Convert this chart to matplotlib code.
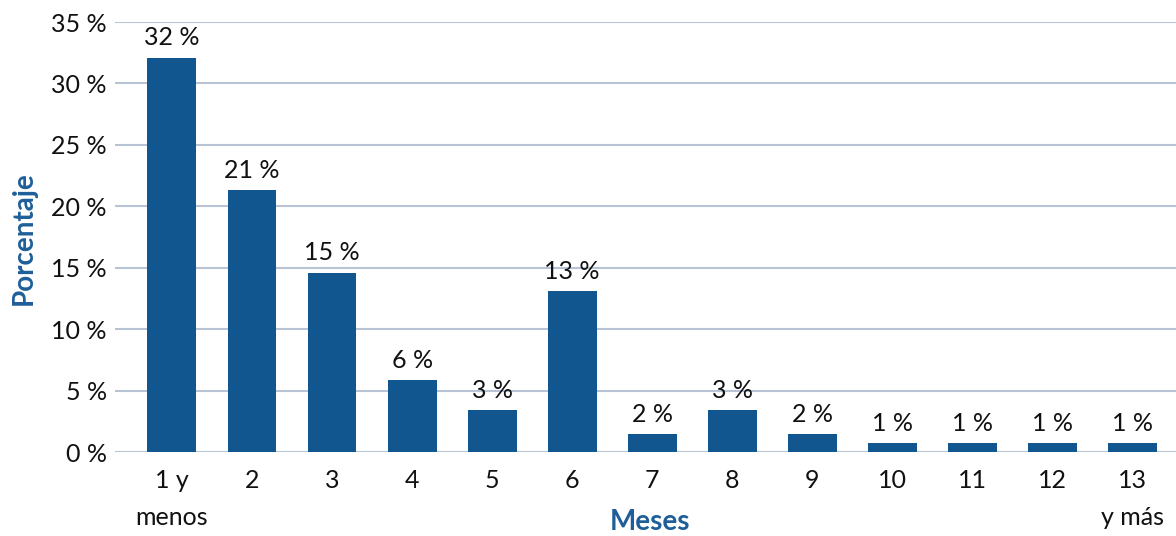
import matplotlib
matplotlib.use("Agg")
import matplotlib.pyplot as plt
import numpy as np

categories = ["1 y\nmenos", "2", "3", "4", "5", "6", "7", "8", "9", "10", "11", "12", "13\ny más"]
values = [32.1, 21.3, 14.6, 5.85, 3.4, 13.1, 1.45, 3.4, 1.45, 0.72, 0.72, 0.72, 0.72]
value_labels = ["32 %", "21 %", "15 %", "6 %", "3 %", "13 %", "2 %", "3 %", "2 %", "1 %", "1 %", "1 %", "1 %"]
yticks = [0, 5, 10, 15, 20, 25, 30, 35]

plt.rcParams['font.family'] = ['Lato', 'DejaVu Sans']

fig = plt.figure(figsize=(11.76, 5.36), dpi=100)
ax = fig.add_axes([115/1176, 1 - 452/536, (1176-115)/1176, (452-22)/536])

x = np.arange(len(categories))
bar_color = "#12568f"
ax.bar(x, values, width=0.61, color=bar_color, zorder=3)

fs = 18
for xi, v, lab in zip(x, values, value_labels):
    ax.annotate(lab, (xi, v), xytext=(0, 6), textcoords="offset points",
                ha="center", va="bottom", fontsize=fs, color="#111111")

ax.set_ylim(0, 35)
ax.set_xlim(-0.71, 12.54)
ax.set_yticks(yticks)
ax.set_yticklabels([f"{t} %" for t in yticks], fontsize=fs, color="#111111")
ax.set_xticks(x)
ax.set_xticklabels(categories, fontsize=fs, color="#111111", linespacing=1.75, va="top")
ax.tick_params(axis="both", length=0)
ax.tick_params(axis="y", pad=6)
ax.tick_params(axis="x", pad=12)
ax.grid(axis="y", color="#b8c4d6", linewidth=1.5, zorder=0)
ax.set_axisbelow(True)
for s in ax.spines.values():
    s.set_visible(False)

label_color = "#1f5f99"
fig.text(650/1176, 1 - 522/536, "Meses", ha="center", va="center",
         fontsize=20, fontweight="bold", color=label_color)
fig.text(24/1176, 1 - 238/536, "Porcentaje", ha="center", va="center", rotation=90,
         fontsize=20, fontweight="bold", color=label_color)

fig.savefig("out.png", dpi=100)
